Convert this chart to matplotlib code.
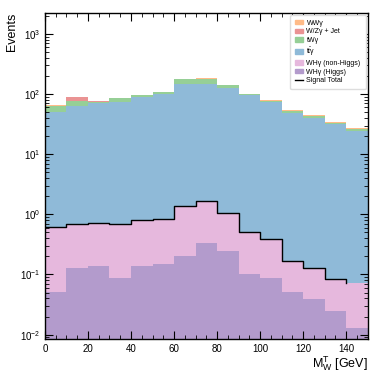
import numpy as np
import matplotlib
matplotlib.use("Agg")
import matplotlib.pyplot as plt
from matplotlib.patches import Patch
from matplotlib.lines import Line2D
from matplotlib.ticker import MultipleLocator, LogLocator, NullFormatter

plt.rcParams['font.family'] = ['Liberation Sans', 'DejaVu Sans']
plt.rcParams['mathtext.default'] = 'regular'

bin_edges = np.arange(0, 151, 10)
higgs = [0.051, 0.126, 0.139, 0.089, 0.139, 0.152, 0.20, 0.34, 0.244, 0.10, 0.088, 0.051, 0.039, 0.025, 0.0129]
non_higgs = [0.569, 0.574, 0.581, 0.611, 0.681, 0.698, 1.16, 1.31, 0.816, 0.41, 0.302, 0.119, 0.088, 0.060, 0.059]
ttgamma = [50, 62, 70, 74, 87, 99, 146, 146, 123, 95, 72, 49, 40.5, 31.5, 24]
twgamma = [12, 13, 4, 11, 8, 8, 30, 32, 17, 3, 5, 3.5, 2.5, 1.5, 2]
wzjet = [1.0, 12, 0.5, 0.5, 0.3, 0.5, 0.5, 1.0, 0.5, 0.3, 0.5, 0.3, 0.5, 0.3, 0.3]
wwgamma = [3, 1, 1, 0.5, 0.5, 1, 3, 2, 1, 1, 1, 0.5, 1.5, 1, 0.5]

labels = ["WHγ (Higgs)", "WHγ (non-Higgs)", "t$\\bar{t}$γ", "tWγ", "W/Zγ + Jet", "WWγ"]
colors = ["#b39bcc", "#e6b8dd", "#8fbad8", "#96cf96", "#ea9393", "#ffbb88"]
series = [higgs, non_higgs, ttgamma, twgamma, wzjet, wwgamma]

fig = plt.figure(figsize=(3.81, 3.81), dpi=100)
ax = fig.add_axes([0.118, 0.109, 0.847, 0.858])

bottom = np.zeros(len(higgs))
for vals, col in zip(series, colors):
    top = bottom + np.array(vals)
    ax.stairs(top, bin_edges, baseline=bottom, fill=True, color=col, lw=0)
    bottom = top

signal_total = np.array(higgs) + np.array(non_higgs)
ax.step(bin_edges[:-1], signal_total, where='post', color='black', lw=1.0)

ax.set_yscale('log')
ax.set_xlim(0, 150)
ax.set_ylim(0.0083, 2265)

ax.xaxis.set_major_locator(MultipleLocator(20))
ax.xaxis.set_minor_locator(MultipleLocator(5))
ax.yaxis.set_major_locator(LogLocator(base=10, numticks=20))
ax.yaxis.set_minor_locator(LogLocator(base=10, subs=np.arange(2, 10), numticks=50))
ax.yaxis.set_minor_formatter(NullFormatter())
ax.tick_params(which='both', direction='in', top=True, right=True, labelsize=7)
ax.tick_params(which='major', length=6, width=0.8)
ax.tick_params(which='minor', length=3, width=0.6)
for s in ax.spines.values():
    s.set_linewidth(1.0)

ax.set_xlabel("$M_W^T$ [GeV]", fontsize=9, loc='right', labelpad=0)
ax.set_ylabel("Events", fontsize=9, loc='top', labelpad=1)

handles = [Patch(color=c, label=l) for c, l in zip(colors[::-1], labels[::-1])]
handles.append(Line2D([0], [0], color='black', lw=1.0, label='Signal Total'))
ax.legend(handles=handles, loc='upper right', fontsize=5, frameon=True, framealpha=1,
          edgecolor='#dddddd', fancybox=True, handlelength=1.1, handleheight=0.6,
          borderpad=0.7, labelspacing=0.25, handletextpad=0.5, borderaxespad=0.3)

fig.savefig("out.png", dpi=100)
